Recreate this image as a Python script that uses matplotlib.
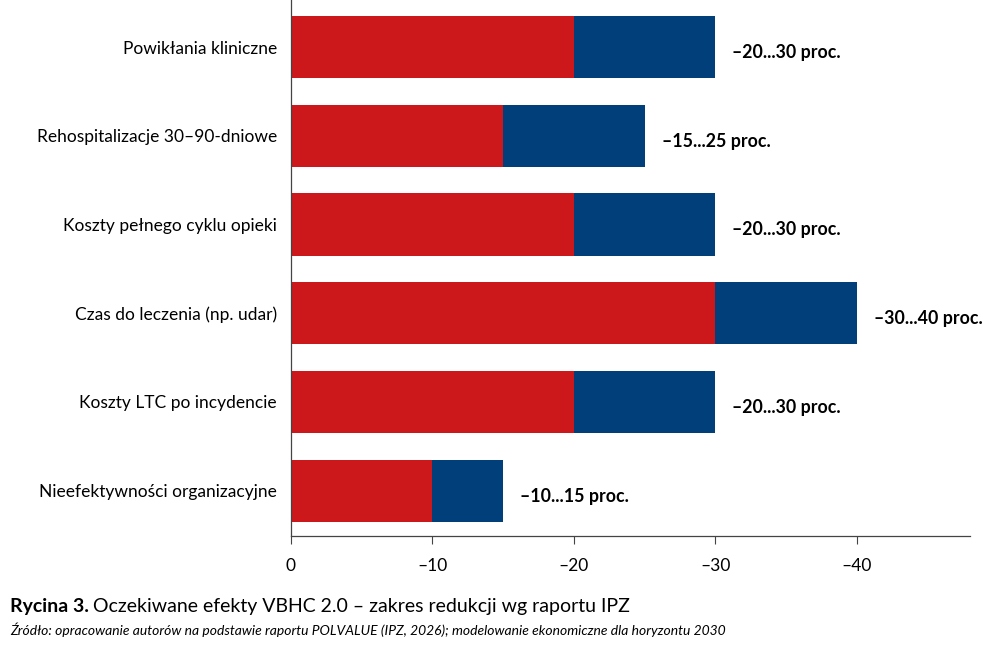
import matplotlib
matplotlib.use("Agg")
import matplotlib.pyplot as plt
from matplotlib.ticker import FuncFormatter

categories = [
    "Powikłania kliniczne",
    "Rehospitalizacje 30–90-dniowe",
    "Koszty pełnego cyklu opieki",
    "Czas do leczenia (np. udar)",
    "Koszty LTC po incydencie",
    "Nieefektywności organizacyjne",
]
low = [-20, -15, -20, -30, -20, -10]
high = [-30, -25, -30, -40, -30, -15]
labels = ["–20...30 proc.", "–15...25 proc.", "–20...30 proc.",
          "–30...40 proc.", "–20...30 proc.", "–10...15 proc."]
xticks = [0, -10, -20, -30, -40]

RED = "#CC181B"
BLUE = "#003F7A"

plt.rcParams['font.family'] = ['Lato', 'DejaVu Sans']

fig = plt.figure(figsize=(10, 6.45), dpi=100)
ax = fig.add_axes([0.291, 0.169, 0.679, 0.831])

y = list(range(len(categories)))
ax.barh(y, low, height=0.7, color=RED, left=0)
ax.barh(y, [h - l for h, l in zip(high, low)], left=low, height=0.7, color=BLUE)

for yi, h, lab in zip(y, high, labels):
    ax.text(h - 1.2, yi + 0.06, lab, va='center', ha='left', fontsize=12.8,
            fontweight='bold', color='black')

ax.set_xlim(0, -48)
ax.set_ylim(5.51, -0.53)
ax.set_yticks(y)
ax.set_yticklabels(categories, fontsize=12.5)
ax.tick_params(axis='y', length=0, pad=10)
ax.set_xticks(xticks)
ax.xaxis.set_major_formatter(FuncFormatter(lambda v, p: "0" if v == 0 else "–%d" % abs(v)))
ax.tick_params(axis='x', length=6, width=0.8, color='#444444', labelsize=12.5, pad=10)
for s in ['top', 'right']:
    ax.spines[s].set_visible(False)
for s in ['left', 'bottom']:
    ax.spines[s].set_color('#444444')
    ax.spines[s].set_linewidth(0.9)

fig.text(0.01, 0.06, "Rycina 3.", fontsize=14, fontweight='bold', va='center', ha='left')
fig.canvas.draw()
r = fig.texts[0].get_window_extent()
fig.text(r.x1 / 1000 + 0.004, 0.06, "Oczekiwane efekty VBHC 2.0 – zakres redukcji wg raportu IPZ",
         fontsize=14, va='center', ha='left')
fig.text(0.01, 0.023, "Źródło: opracowanie autorów na podstawie raportu POLVALUE (IPZ, 2026); modelowanie ekonomiczne dla horyzontu 2030",
         fontsize=10, style='italic', va='center', ha='left')

fig.savefig("out.png", dpi=100)
